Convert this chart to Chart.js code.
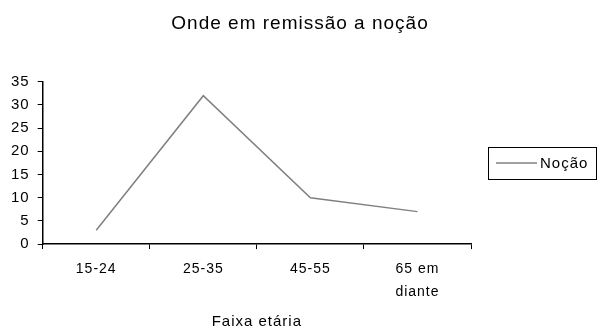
<!DOCTYPE html>
<html>
<head>
<meta charset="utf-8">
<script src="https://cdn.jsdelivr.net/npm/chart.js@4"></script>
<style>
  html, body { margin: 0; padding: 0; background: #fff; }
  #wrap { width: 597px; height: 331px; }
</style>
</head>
<body>
<div id="wrap"><canvas id="grafico"></canvas></div>
<script>
// dados do gráfico
const faixas = ['15-24', '25-35', '45-55', ['65 em', 'diante']];
const nocao = [3, 32, 10, 7];
const yTicks = [0, 5, 10, 15, 20, 25, 30, 35];

const titulo = 'Onde em remissão a noção';
const tituloX = 'Faixa etária';
const fonte = "'Liberation Sans', Arial, sans-serif";

// o texto do original é um pouco espaçado
const espacamento = {
    id: 'espacamento',
    beforeUpdate(chart) { chart.ctx.letterSpacing = '1px'; },
    beforeDraw(chart) { chart.ctx.letterSpacing = '1px'; }
};

// legenda com caixa, desenhada à mão (o Chart.js não tem borda de legenda)
const legendaCaixa = {
    id: 'legendaCaixa',
    afterDraw(chart) {
        const ctx = chart.ctx;
        const area = chart.chartArea;
        const ds = chart.data.datasets[0];
        const meio = Math.round((area.top + area.bottom) / 2);
        const x = 488, w = 108, h = 32;
        const y = Math.round(meio - h / 2) + 0.5;
        ctx.save();
        ctx.strokeStyle = '#000';
        ctx.lineWidth = 1;
        ctx.strokeRect(x + 0.5, y, w, h);
        ctx.strokeStyle = ds.borderColor;
        ctx.lineWidth = ds.borderWidth;
        ctx.beginPath();
        ctx.moveTo(x + 8, meio);
        ctx.lineTo(x + 49, meio);
        ctx.stroke();
        ctx.fillStyle = '#000';
        ctx.font = '15px ' + fonte;
        ctx.letterSpacing = '1px';
        ctx.textBaseline = 'middle';
        ctx.fillText(ds.label, x + 52, meio + 1);
        ctx.restore();
    }
};

document.addEventListener('DOMContentLoaded', function() {
    const ctx = document.getElementById('grafico').getContext('2d');
    new Chart(ctx, {
        type: 'line',
        data: {
            labels: faixas,
            datasets: [{
                label: 'Noção',
                data: nocao,
                borderColor: '#808080',
                borderWidth: 1.5,
                pointRadius: 0,
                tension: 0,
                fill: false
            }]
        },
        options: {
            responsive: true,
            maintainAspectRatio: false,
            animation: false,
            layout: {
                padding: { left: 3, right: 0, top: 0, bottom: 0 }
            },
            plugins: {
                legend: { display: false },
                tooltip: { enabled: false },
                title: {
                    display: true,
                    text: titulo,
                    color: '#000',
                    font: { family: fonte, size: 19, weight: 'normal' },
                    padding: { top: 12, bottom: 47 }
                }
            },
            scales: {
                x: {
                    offset: true,
                    grid: {
                        offset: true,
                        drawOnChartArea: false,
                        drawTicks: true,
                        tickLength: 5,
                        color: '#000'
                    },
                    border: { color: '#000', width: 1.5 },
                    ticks: {
                        color: '#000',
                        font: { family: fonte, size: 14, lineHeight: 1.64 },
                        padding: 9,
                        maxRotation: 0,
                        autoSkip: false
                    },
                    title: {
                        display: true,
                        text: tituloX,
                        color: '#000',
                        font: { family: fonte, size: 15 },
                        padding: { top: 0, bottom: 0 }
                    }
                },
                y: {
                    min: 0,
                    max: 35,
                    afterBuildTicks(scale) {
                        scale.ticks = yTicks.map(v => ({ value: v }));
                    },
                    grid: {
                        drawOnChartArea: false,
                        drawTicks: true,
                        tickLength: 5,
                        color: '#000'
                    },
                    border: { color: '#000', width: 1.5 },
                    ticks: {
                        color: '#000',
                        font: { family: fonte, size: 15 },
                        padding: 8
                    }
                },
                // eixo vazio à direita só para reservar o espaço da legenda
                espaco: {
                    position: 'right',
                    display: true,
                    grid: { display: false },
                    border: { display: false },
                    ticks: { display: false },
                    afterFit(scale) { scale.width = 126; }
                }
            }
        },
        plugins: [espacamento, legendaCaixa]
    });
});
</script>
</body>
</html>
